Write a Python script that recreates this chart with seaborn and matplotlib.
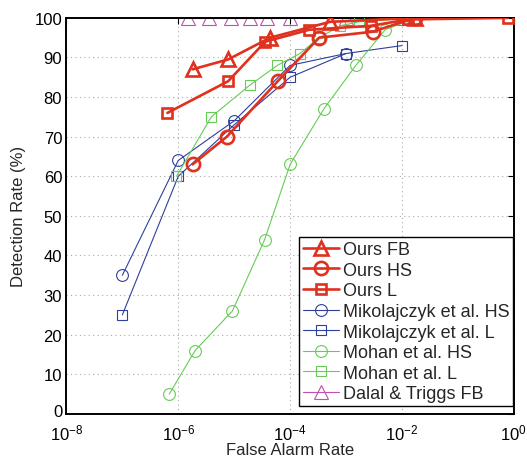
import numpy as np
import pandas as pd
import matplotlib
matplotlib.use("Agg")
import matplotlib.pyplot as plt
import matplotlib.transforms as mtransforms
import seaborn as sns

# ---- data ----
ours_fb_x = [1.8e-6, 7.8e-6, 4.4e-5, 5.2e-4, 1.7e-2]
ours_fb_y = [87, 89.5, 95, 99, 100]
ours_hs_x = [1.8e-6, 7.4e-6, 6.0e-5, 3.3e-4, 3.0e-3, 1.7e-2]
ours_hs_y = [63, 70, 84, 95, 96.5, 100]
ours_l_x = [6.4e-7, 7.8e-6, 3.6e-5, 2.2e-4, 2.8e-3, 1.3e-2, 0.78]
ours_l_y = [76, 84, 94, 97, 98, 99.6, 100]
miko_hs_x = [1e-7, 1e-6, 1e-5, 1e-4, 1e-3]
miko_hs_y = [35, 64, 74, 88, 91]
miko_l_x = [1e-7, 1e-6, 1e-5, 1e-4, 1e-3, 1e-2]
miko_l_y = [25, 60, 73, 85, 91, 93]
mohan_hs_x = [6.9e-7, 2.0e-6, 9.3e-6, 3.5e-5, 1e-4, 4e-4, 1.5e-3, 5e-3, 1.8e-2]
mohan_hs_y = [5, 16, 26, 44, 63, 77, 88, 97, 100]
mohan_l_x = [9.3e-7, 3.9e-6, 1.9e-5, 5.9e-5, 1.5e-4, 3.3e-4, 7.9e-4, 1.7e-3, 1.7e-2]
mohan_l_y = [60, 75, 83, 88, 91, 95, 98, 99, 100]
dalal_x = [1.5e-6, 3.5e-6, 8.6e-6, 1.9e-5, 3.9e-5, 1e-4, 1e-3, 1e-2]
dalal_y = [100, 100, 100, 100, 100, 100, 100, 100]

labels = ["Ours FB", "Ours HS", "Ours L", "Mikolajczyk et al. HS",
          "Mikolajczyk et al. L", "Mohan et al. HS", "Mohan et al. L",
          "Dalal & Triggs FB"]
xticks = [1e-8, 1e-6, 1e-4, 1e-2, 1e0]
yticks = [0, 10, 20, 30, 40, 50, 60, 70, 80, 90, 100]

RED = "#e0301e"
BLUE = "#2f3f9c"
GREEN = "#66cc55"
MAG = "#c050b0"

series = [
    (ours_fb_x, ours_fb_y, RED, "^", 10.5, 1.9, 5),
    (ours_hs_x, ours_hs_y, RED, "o", 9.5, 1.9, 5),
    (ours_l_x, ours_l_y, RED, "s", 7.5, 1.9, 5),
    (miko_hs_x, miko_hs_y, BLUE, "o", 8.5, 0.8, 3),
    (miko_l_x, miko_l_y, BLUE, "s", 7, 0.8, 3),
    (mohan_hs_x, mohan_hs_y, GREEN, "o", 8.5, 0.8, 3),
    (mohan_l_x, mohan_l_y, GREEN, "s", 7, 0.8, 3),
    (dalal_x, dalal_y, MAG, "^", 10, 0.8, 2),
]

sns.set_style("white")
plt.rcParams["font.family"] = ["Liberation Sans", "DejaVu Sans"]
plt.rcParams["mathtext.fontset"] = "custom"
plt.rcParams["mathtext.rm"] = "Liberation Sans"
plt.rcParams["mathtext.it"] = "Liberation Sans:italic"

fig = plt.figure(figsize=(5.27, 4.60), dpi=100)
ax = fig.add_axes([0.126, 0.098, 0.849, 0.861])

for (xs, ys, c, m, ms, lw, z), lab in zip(series, labels):
    df = pd.DataFrame({"x": xs, "y": ys})
    sns.lineplot(data=df, x="x", y="y", ax=ax, sort=False, estimator=None,
                 color=c, marker=m, markersize=ms, markerfacecolor="none",
                 markeredgecolor=c, markeredgewidth=lw, linewidth=lw,
                 label=lab, zorder=z)

ax.set_xscale("log")
ax.set_xlim(1e-8, 1e0)
ax.set_ylim(0, 100)
ax.set_xticks(xticks)
ax.xaxis.set_minor_locator(matplotlib.ticker.NullLocator())
ax.set_xticklabels([r"$10^{%d}$" % int(np.log10(v)) for v in xticks])
ax.set_yticks(yticks)
ax.set_yticklabels([str(v) for v in yticks])
ax.tick_params(direction="in", length=4, width=0.8, top=True, right=True,
               labelsize=12, pad=3, colors="black")
ax.tick_params(axis="x", pad=6)
ax.grid(True, which="major", linestyle=(0, (1, 3)), color="#aaaaaa", linewidth=0.8)
for s in ax.spines.values():
    s.set_visible(True)
    s.set_color("black")
    s.set_linewidth(1.4)

# nudge the "0" y label up slightly so it does not collide with 10^-8
zero_lab = ax.get_yticklabels()[0]
zero_lab.set_transform(zero_lab.get_transform() +
                       mtransforms.ScaledTranslation(0, 3 / 72, fig.dpi_scale_trans))

ax.set_xlabel("False Alarm Rate", fontsize=12, labelpad=0)
ax.set_ylabel("Detection Rate (%)", fontsize=12, labelpad=6)

leg = ax.legend(loc="lower right", bbox_to_anchor=(0.998, 0.02), fontsize=13,
                frameon=True, fancybox=False,
                edgecolor="black", framealpha=1, handlelength=2.0,
                handletextpad=0.2, labelspacing=0.2, borderpad=0.2,
                borderaxespad=0.0)
leg.get_frame().set_linewidth(1.0)

fig.savefig("out.png", dpi=100)
